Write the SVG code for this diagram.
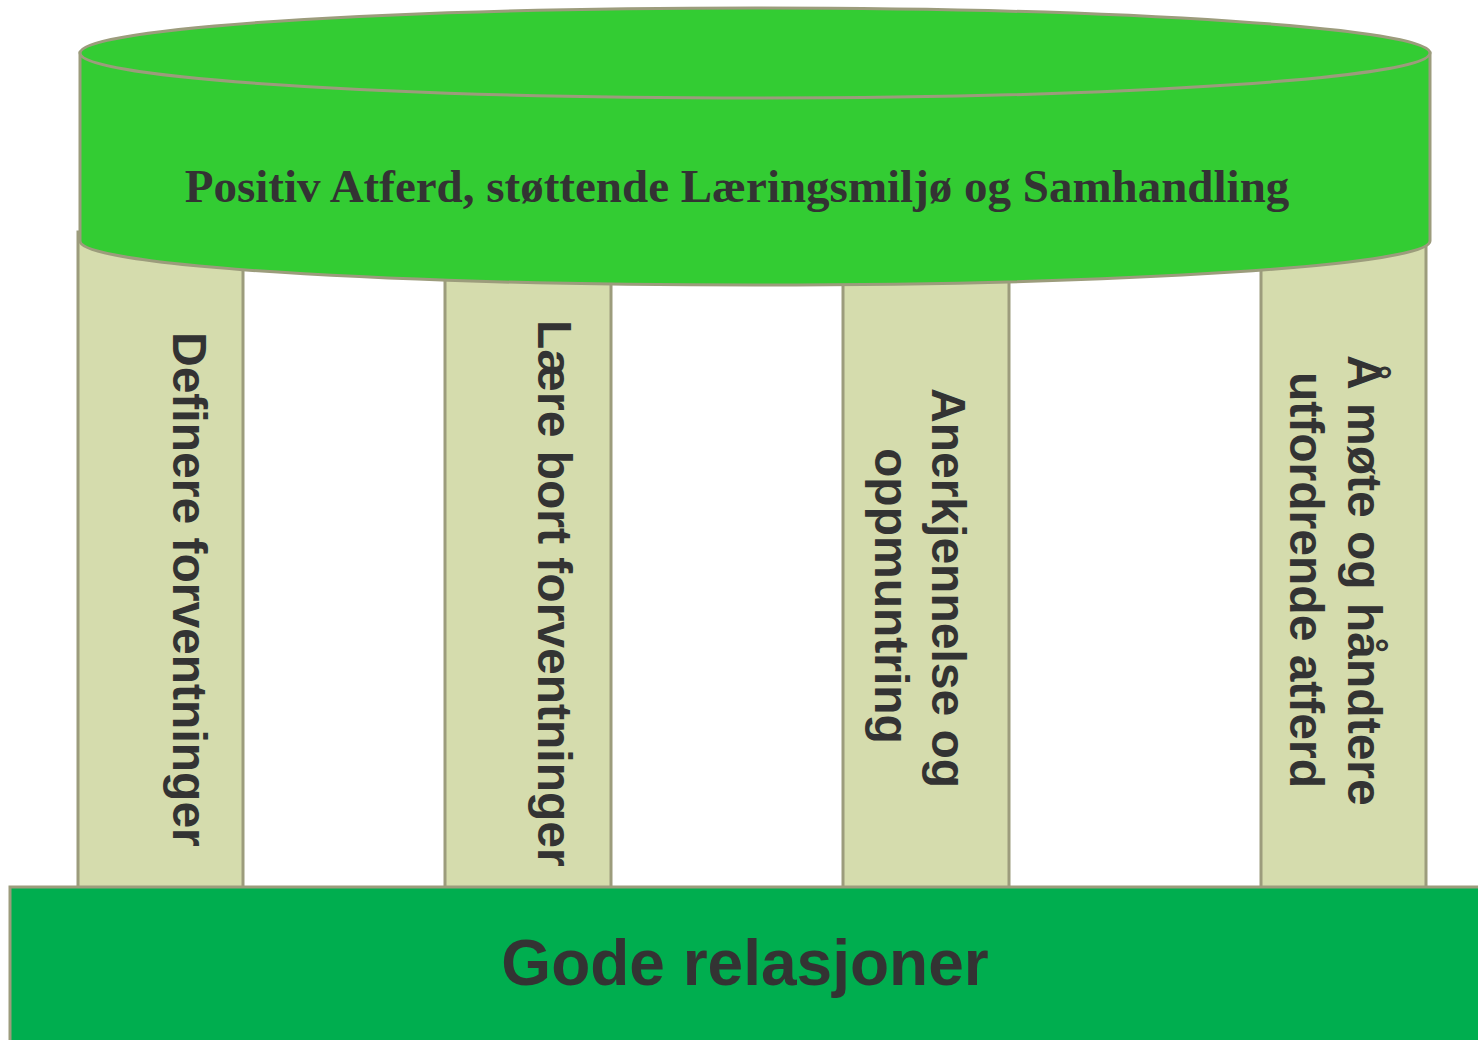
<svg xmlns="http://www.w3.org/2000/svg" width="1478" height="1040" viewBox="0 0 1478 1040">
<style>
.col{fill:#d5dcad;stroke:#9c9c7c;stroke-width:3}
.cyl{fill:#33cc33;stroke:#9c9c7c;stroke-width:3}
.base{fill:#00ae4f;stroke:#9c9c7c;stroke-width:3}
.ct{font-family:"Liberation Sans",Arial,sans-serif;font-weight:bold;font-size:48px;fill:#333333}
.tt{font-family:"Liberation Serif","Times New Roman",serif;font-weight:bold;font-size:47px;fill:#333333}
.bt{font-family:"Liberation Sans",Arial,sans-serif;font-weight:bold;font-size:64px;fill:#333333}
</style>
<rect width="1478" height="1040" fill="#ffffff"/>
<g id="pillar1">
<rect class="col" x="78" y="232" width="165" height="660"/>
<text class="ct" transform="translate(173,332) rotate(90)">Definere forventninger</text>
</g>
<g id="pillar2">
<rect class="col" x="445" y="240" width="166" height="652"/>
<text class="ct" transform="translate(538,320) rotate(90)">Lære bort forventninger</text>
</g>
<g id="pillar3">
<rect class="col" x="843" y="240" width="166" height="652"/>
<text class="ct" transform="translate(932,388) rotate(90)">Anerkjennelse og</text>
<text class="ct" transform="translate(875,448) rotate(90)">oppmuntring</text>
</g>
<g id="pillar4">
<rect class="col" x="1261" y="232" width="165" height="660"/>
<text class="ct" transform="translate(1348,355) rotate(90)">Å møte og håndtere</text>
<text class="ct" transform="translate(1290,372) rotate(90)">utfordrende atferd</text>
</g>
<g id="top">
<path class="cyl" d="M80,53 L80,241 A675,44 0 0 0 1430,241 L1430,53 Z"/>
<ellipse class="cyl" cx="755" cy="53" rx="675" ry="45"/>
<text class="tt" x="737" y="202" text-anchor="middle">Positiv Atferd, støttende Læringsmiljø og Samhandling</text>
</g>
<g id="foundation">
<rect class="base" x="10" y="887" width="1480" height="160"/>
<text class="bt" x="745" y="985" text-anchor="middle">Gode relasjoner</text>
</g>
<g id="connectors"></g>
</svg>
